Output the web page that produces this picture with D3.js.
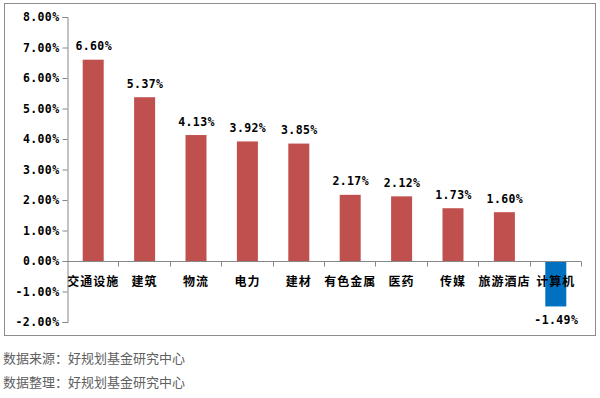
<!DOCTYPE html>
<html><head><meta charset="utf-8">
<script src="https://cdn.jsdelivr.net/npm/d3@7"></script>
<style>
body{margin:0;background:#fff;}
svg{display:block;}
</style></head>
<body>
<svg id="c" width="600" height="398"></svg>
<script>
const categories = ["交通设施","建筑","物流","电力","建材","有色金属","医药","传媒","旅游酒店","计算机"];
const values = [6.60, 5.37, 4.13, 3.92, 3.85, 2.17, 2.12, 1.73, 1.60, -1.49];
const yTicks = [8,7,6,5,4,3,2,1,0,-1,-2];
const footnotes = ["数据来源：好规划基金研究中心","数据整理：好规划基金研究中心"];

const svg = d3.select("#c");
const numFont = "'DejaVu Sans Mono', monospace";
const cjkFont = "'Noto Sans CJK SC', sans-serif";

// outer frame
svg.append("rect").attr("x",4.5).attr("y",3.5).attr("width",591).attr("height",332)
  .attr("fill","none").attr("stroke","#8c8c8c").attr("stroke-width",1);

const x = d3.scaleBand().domain(categories).range([67,581]).paddingInner(0).paddingOuter(0);
const y = d3.scaleLinear().domain([-2,8]).range([322,17]);

// bars
const bw = 21;
svg.selectAll("rect.bar").data(values).enter().append("rect")
  .attr("class","bar")
  .attr("x",(d,i)=>x(categories[i])+x.bandwidth()/2-bw/2+0.5)
  .attr("y",d=>y(Math.max(0,d)))
  .attr("width",bw)
  .attr("height",d=>Math.abs(y(d)-y(0)))
  .attr("fill",d=>d>=0?"#C0504D":"#0070C0");

// y axis
const yAxis = d3.axisLeft(y).tickValues(yTicks).tickSize(5).tickFormat(d=>d.toFixed(2)+"%");
const gy = svg.append("g").attr("transform","translate(67.5,0)").call(yAxis);
gy.select(".domain").attr("stroke","#868686");
gy.selectAll(".tick line").attr("stroke","#868686");
gy.selectAll(".tick text").attr("x",-8).attr("font-family",numFont).attr("font-weight","bold")
  .attr("font-size","11.5px").attr("letter-spacing","0.4px").attr("fill","#000");

// x axis line with ticks at band boundaries
const gx = svg.append("g").attr("transform",`translate(0,${Math.round(y(0))+0.5})`);
gx.append("line").attr("x1",67).attr("x2",581).attr("stroke","#868686");
const bounds = categories.map(c=>x(c)).concat([x.range()[1]]);
gx.selectAll("line.t").data(bounds.slice(1)).enter().append("line").attr("class","t")
  .attr("x1",d=>Math.round(d)+0.5).attr("x2",d=>Math.round(d)+0.5).attr("y1",0).attr("y2",5)
  .attr("stroke","#868686");

// category labels
svg.selectAll("text.cat").data(categories).enter().append("text").attr("class","cat")
  .attr("x",d=>x(d)+x.bandwidth()/2+0.5)
  .attr("y",286)
  .attr("text-anchor","middle")
  .attr("font-family",cjkFont).attr("font-weight","bold").attr("font-size","12px")
  .attr("letter-spacing","1px")
  .attr("fill","#000").text(d=>d);

// value labels
svg.selectAll("text.val").data(values).enter().append("text").attr("class","val")
  .attr("x",(d,i)=>x(categories[i])+x.bandwidth()/2+1)
  .attr("y",d=>d>=0? y(d)-9.5 : y(d)+18)
  .attr("text-anchor","middle")
  .attr("font-family",numFont).attr("font-weight","bold").attr("font-size","11.5px")
  .attr("letter-spacing","0.4px")
  .attr("fill","#000").text(d=>d.toFixed(2)+"%");

// footnotes
svg.selectAll("text.foot").data(footnotes).enter().append("text").attr("class","foot")
  .attr("x",3).attr("y",(d,i)=>363+i*24)
  .attr("font-family",cjkFont).attr("font-size","13px").attr("fill","#606060").text(d=>d);
</script>
</body></html>
